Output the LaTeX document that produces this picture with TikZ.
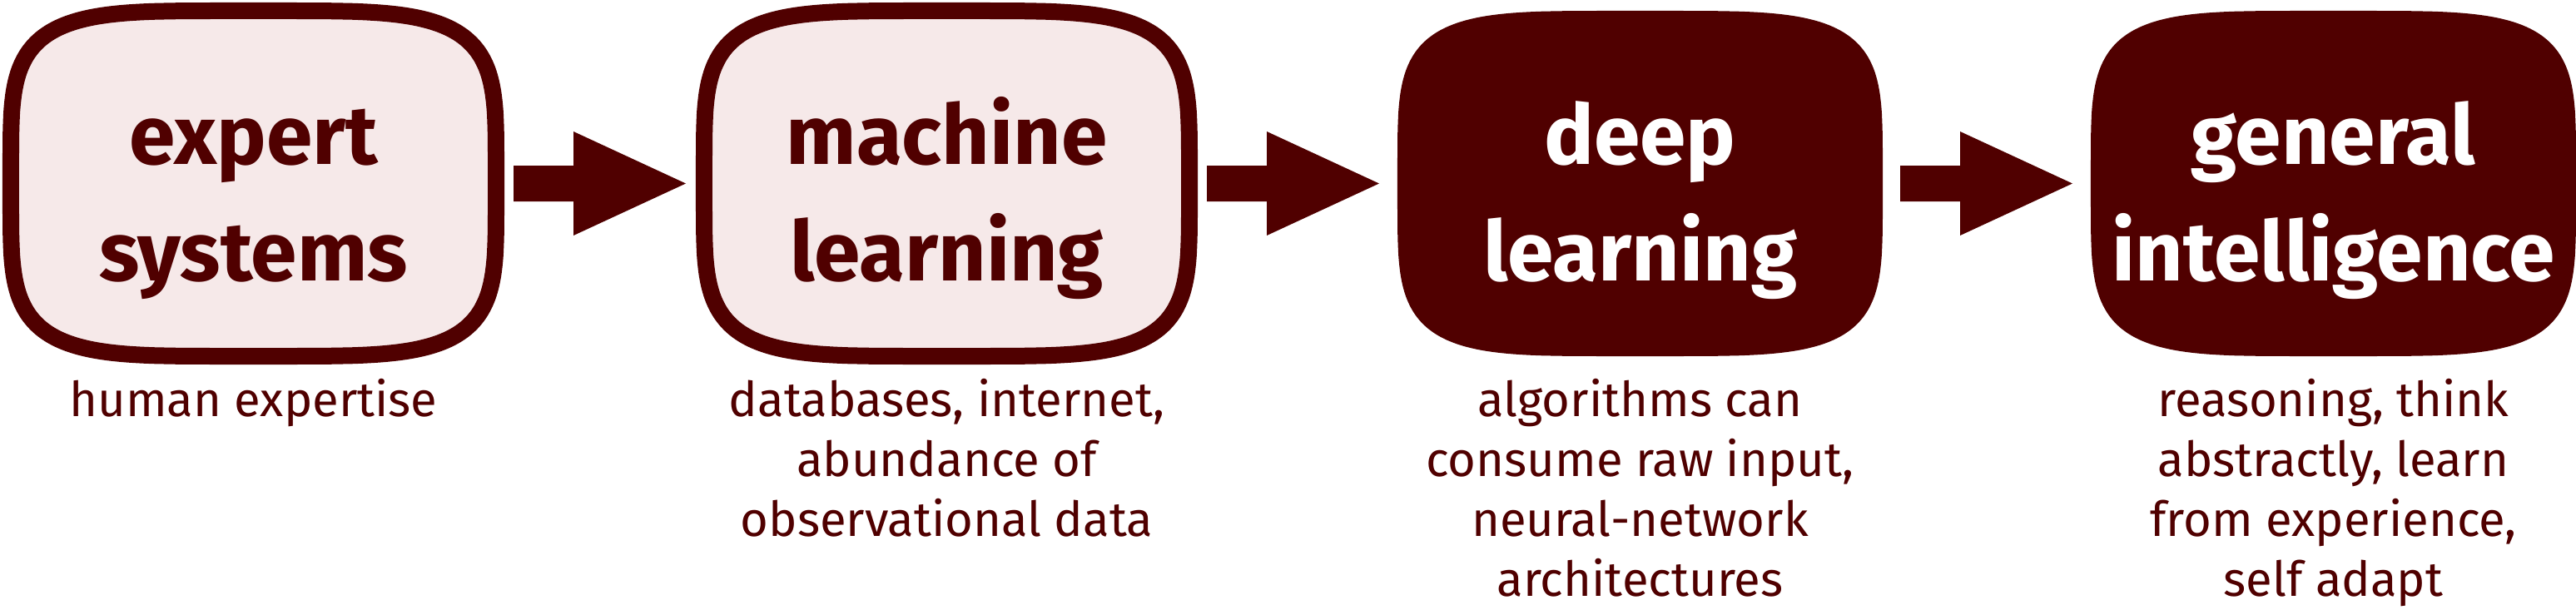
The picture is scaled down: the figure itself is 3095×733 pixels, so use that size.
\documentclass[tikz,border=0pt]{standalone}
\usepackage{fontspec}
\setmainfont{Fira Sans}
\usetikzlibrary{calc}
\definecolor{maroon}{RGB}{80,0,0}
\definecolor{blush}{RGB}{246,233,233}
\newcommand\squircle[3]{\path[#3] plot[domain=0.5:360.5, samples=361, variable=\t]
  ({#1+291.5*sign(cos(\t))*pow(abs(cos(\t)),0.444)}, {#2+207.5*sign(sin(\t))*pow(abs(sin(\t)),0.444)}) -- cycle;}
\begin{document}
\begin{tikzpicture}[x=0.5pt,y=-0.5pt,
  frame/.style={minimum width=291.5pt, minimum height=207.5pt, inner sep=0pt, outer sep=0pt},
  title/.style={font=\fontsize{50}{70}\selectfont\bfseries, align=center, anchor=base, inner sep=0pt},
  caption/.style={font=\fontsize{29}{36}\selectfont, text=maroon, align=center, anchor=base, inner sep=0pt},
  lightbox/.style={fill=blush, draw=maroon, line width=10pt},
  darkbox/.style={fill=maroon}]
\useasboundingbox (0,0) rectangle (3095,733);
\squircle{304.5}{220.5}{lightbox}
\squircle{1137.5}{220.5}{lightbox}
\squircle{1970.5}{220.5}{darkbox}
\squircle{2803.5}{220.5}{darkbox}
\node[frame] (b1) at (304.5,220.5) {};
\node[frame] (b2) at (1137.5,220.5) {};
\node[frame] (b3) at (1970.5,220.5) {};
\node[frame] (b4) at (2803.5,220.5) {};
% base anchor = baseline of the last line
\node[title, text=maroon] (t1) at (304.5,337) {expert\\systems};
\node[title, text=maroon] (t2) at (1137.5,337) {machine\\learning};
\node[title, text=white] (t3) at (1970.5,337) {deep\\learning};
\node[title, text=white] (t4) at (2803.5,337) {general\\intelligence};
\node[caption] (c1) at (304.5,500) {human expertise};
\node[caption] (c2) at (1137.5,644) {databases, internet,\\abundance of\\observational data};
\node[caption] (c3) at (1970.5,716) {algorithms can\\consume raw input,\\neural-network\\architectures};
\node[caption] (c4) at (2803.5,716) {reasoning, think\\abstractly, learn\\from experience,\\self adapt};
\foreach \a/\b in {b1/b2,b2/b3,b3/b4}
  \fill[maroon] ($(\a.east)+(21,-21.5)$) -- ($(\a.east)+(93,-21.5)$) -- ($(\a.east)+(93,-62.5)$)
    -- ($(\b.west)+(-22,0)$) -- ($(\a.east)+(93,62.5)$) -- ($(\a.east)+(93,21.5)$)
    -- ($(\a.east)+(21,21.5)$) -- cycle;
\end{tikzpicture}
\end{document}
